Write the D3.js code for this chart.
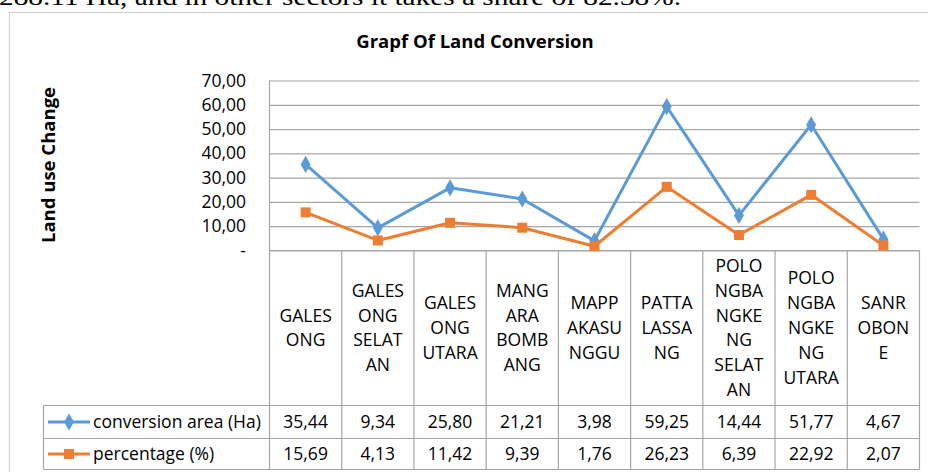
<!DOCTYPE html>
<html>
<head>
<meta charset="utf-8">
<script src="https://cdn.jsdelivr.net/npm/d3@7"></script>
<style>
  body { margin: 0; background: #ffffff; }
  svg { display: block; }
</style>
</head>
<body>
<svg id="chart" width="928" height="472"></svg>
<script>
(() => {
  const categories = [
    "GALESONG",
    "GALESONG SELATAN",
    "GALESONG UTARA",
    "MANGARA BOMBANG",
    "MAPPAKASUNGGU",
    "PATTALASSANG",
    "POLONGBANGKENG SELATAN",
    "POLONGBANGKENG UTARA",
    "SANROBONE",
  ];
  // wrapped the way the spreadsheet breaks them inside the narrow columns
  const categoryLines = [
    ["GALES", "ONG"],
    ["GALES", "ONG", "SELAT", "AN"],
    ["GALES", "ONG", "UTARA"],
    ["MANG", "ARA", "BOMB", "ANG"],
    ["MAPP", "AKASU", "NGGU"],
    ["PATTA", "LASSA", "NG"],
    ["POLO", "NGBA", "NGKE", "NG", "SELAT", "AN"],
    ["POLO", "NGBA", "NGKE", "NG", "UTARA"],
    ["SANR", "OBON", "E"],
  ];
  const conversionArea = [35.44, 9.34, 25.8, 21.21, 3.98, 59.25, 14.44, 51.77, 4.67];
  const percentage = [15.69, 4.13, 11.42, 9.39, 1.76, 26.23, 6.39, 22.92, 2.07];
  const seriesNames = ["conversion area (Ha)", "percentage (%)"];
  const yTicks = [0, 10, 20, 30, 40, 50, 60, 70];

  const BLUE = "#5b9bd5";
  const ORANGE = "#ed7d31";
  const GRID = "#a6a6a6";
  const FONT = "'Open Sans', 'Noto Sans', sans-serif";
  const FS = 17.5;

  const plot = { left: 269.5, right: 919.5, top: 80.5, bottom: 250.5 };
  const table = { legendLeft: 43.5, labelBottom: 405.5, row1: 438.5, row2: 469.5 };

  const svg = d3.select("#chart");

  // leftover paragraph text from the page the chart was cut out of
  svg.append("text")
    .attr("x", -1)
    .attr("y", 5)
    .attr("font-family", "'Liberation Serif', 'DejaVu Serif', serif")
    .attr("font-size", 24)
    .attr("textLength", 682)
    .attr("lengthAdjust", "spacingAndGlyphs")
    .attr("fill", "#000")
    .text("288.11 Ha, and in other sectors it takes a share of 82.38%.");

  // chart frame
  svg.append("rect")
    .attr("x", 9.5)
    .attr("y", 12.5)
    .attr("width", 940)
    .attr("height", 480)
    .attr("fill", "#fff")
    .attr("stroke", "#d0d0d0")
    .attr("stroke-width", 1.2);

  svg.append("text")
    .attr("x", 475)
    .attr("y", 48)
    .attr("text-anchor", "middle")
    .attr("font-family", FONT)
    .attr("font-size", 18.5)
    .attr("font-weight", "bold")
    .attr("fill", "#000")
    .text("Grapf Of Land Conversion");

  svg.append("text")
    .attr("transform", "translate(55,165) rotate(-90)")
    .attr("text-anchor", "middle")
    .attr("font-family", FONT)
    .attr("font-size", 18.5)
    .attr("font-weight", "bold")
    .attr("fill", "#000")
    .text("Land use Change");

  const x = d3.scaleBand()
    .domain(categories)
    .range([plot.left, plot.right])
    .paddingInner(0)
    .paddingOuter(0);

  const y = d3.scaleLinear()
    .domain([0, 70])
    .range([plot.bottom, plot.top]);

  const locale = d3.formatLocale({ decimal: ",", thousands: ".", grouping: [3], currency: ["", ""] });
  const fmt2 = locale.format(".2f");
  const tickFormat = (d) => (d === 0 ? "-" : fmt2(d));

  // horizontal gridlines
  const grid = svg.append("g")
    .attr("transform", `translate(${plot.left},0)`)
    .call(d3.axisLeft(y).tickValues(yTicks).tickSize(-(plot.right - plot.left)).tickFormat(""));
  grid.select(".domain").remove();
  grid.selectAll("line").attr("stroke", GRID).attr("stroke-width", 1.2);

  // value axis labels
  const yAxis = svg.append("g")
    .attr("transform", "translate(246,0)")
    .call(d3.axisLeft(y).tickValues(yTicks).tickSize(0).tickPadding(0).tickFormat(tickFormat));
  yAxis.select(".domain").remove();
  yAxis.selectAll("text")
    .attr("font-family", FONT)
    .attr("font-size", FS)
    .attr("fill", "#000");

  // plot-area left edge
  svg.append("line")
    .attr("x1", plot.left).attr("x2", plot.left)
    .attr("y1", plot.top).attr("y2", table.row2)
    .attr("stroke", GRID).attr("stroke-width", 1.2);

  // data table grid
  const tableLines = svg.append("g")
    .attr("stroke", GRID)
    .attr("stroke-width", 1.2);

  tableLines.selectAll("line.col")
    .data(categories)
    .join("line")
    .attr("class", "col")
    .attr("x1", (d) => x(d) + x.bandwidth())
    .attr("x2", (d) => x(d) + x.bandwidth())
    .attr("y1", plot.bottom)
    .attr("y2", table.row2);

  tableLines.append("line")
    .attr("x1", plot.left).attr("x2", plot.right)
    .attr("y1", plot.bottom).attr("y2", plot.bottom);

  tableLines.selectAll("line.row")
    .data([table.labelBottom, table.row1, table.row2])
    .join("line")
    .attr("class", "row")
    .attr("x1", table.legendLeft)
    .attr("x2", plot.right)
    .attr("y1", (d) => d)
    .attr("y2", (d) => d);

  tableLines.append("line")
    .attr("x1", table.legendLeft).attr("x2", table.legendLeft)
    .attr("y1", table.labelBottom).attr("y2", table.row2);

  // category labels (wrapped)
  const lineH = 24.8;
  const labelMid = (plot.bottom + table.labelBottom) / 2 + 6;
  const catLabels = svg.append("g")
    .attr("font-family", FONT)
    .attr("font-size", FS)
    .attr("fill", "#000")
    .attr("text-anchor", "middle");

  catLabels.selectAll("text")
    .data(categories)
    .join("text")
    .attr("x", (d) => x(d) + x.bandwidth() / 2)
    .each(function (d, i) {
      const lines = categoryLines[i];
      const top = labelMid - ((lines.length - 1) * lineH) / 2;
      d3.select(this)
        .selectAll("tspan")
        .data(lines)
        .join("tspan")
        .attr("x", x(d) + x.bandwidth() / 2)
        .attr("y", (_, j) => top + j * lineH)
        .text((t) => t);
    });

  // lines and markers
  const series = [
    { name: seriesNames[0], values: conversionArea, color: BLUE, shape: d3.symbolDiamond, size: 85 },
    { name: seriesNames[1], values: percentage, color: ORANGE, shape: d3.symbolSquare, size: 100 },
  ];

  const line = d3.line()
    .x((d, i) => x(categories[i]) + x.bandwidth() / 2)
    .y((d) => y(d));

  series.forEach((s) => {
    svg.append("path")
      .datum(s.values)
      .attr("d", line)
      .attr("fill", "none")
      .attr("stroke", s.color)
      .attr("stroke-width", 3)
      .attr("stroke-linejoin", "round");

    svg.append("g")
      .selectAll("path")
      .data(s.values)
      .join("path")
      .attr("transform", (d, i) => `translate(${x(categories[i]) + x.bandwidth() / 2},${y(d)})`)
      .attr("d", d3.symbol().type(s.shape).size(s.size))
      .attr("fill", s.color);
  });

  // table rows: legend key + values
  const rowMids = [(table.labelBottom + table.row1) / 2, (table.row1 + table.row2) / 2];

  series.forEach((s, r) => {
    const cy = rowMids[r];
    const row = svg.append("g");

    row.append("line")
      .attr("x1", 48).attr("x2", 90)
      .attr("y1", cy).attr("y2", cy)
      .attr("stroke", s.color)
      .attr("stroke-width", 3);

    row.append("path")
      .attr("transform", `translate(69,${cy})`)
      .attr("d", d3.symbol().type(s.shape).size(s.size))
      .attr("fill", s.color);

    row.append("text")
      .attr("x", 93)
      .attr("y", cy)
      .attr("dy", "0.35em")
      .attr("font-family", FONT)
      .attr("font-size", FS)
      .attr("fill", "#000")
      .text(s.name);

    row.selectAll("text.val")
      .data(s.values)
      .join("text")
      .attr("class", "val")
      .attr("x", (d, i) => x(categories[i]) + x.bandwidth() / 2)
      .attr("y", cy)
      .attr("dy", "0.35em")
      .attr("text-anchor", "middle")
      .attr("font-family", FONT)
      .attr("font-size", FS)
      .attr("fill", "#000")
      .text((d) => fmt2(d));
  });
})();
</script>
</body>
</html>
